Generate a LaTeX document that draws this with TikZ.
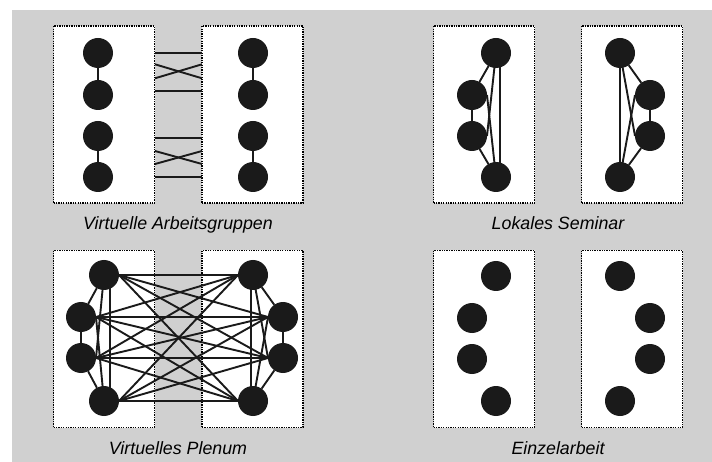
\documentclass[tikz,border=0pt]{standalone}
\usepackage{fontspec}
\setmainfont{Liberation Sans}
\definecolor{bgc}{HTML}{D0D0D0}
\definecolor{dotc}{HTML}{1A1A1A}
\pgfdeclarelayer{panels}
\pgfdeclarelayer{links}
\pgfsetlayers{panels,links,main}
\begin{document}
\begin{tikzpicture}[x=1pt,y=-1pt,
  dot/.style={circle,fill=dotc,draw=none,minimum size=30pt,inner sep=0pt,outer sep=0pt},
  panel/.style={draw=black,fill=white,line width=1.3pt,dash pattern=on 1.3pt off 1.1pt,minimum width=101pt,minimum height=177pt,inner sep=0pt,outer sep=0pt},
  link/.style={draw=dotc,line width=1.9pt},
  lbl/.style={font=\fontsize{17.8}{20}\selectfont\itshape,text=black,anchor=base,inner sep=0pt}]
\useasboundingbox (0,0) rectangle (712,462);
\begin{pgfonlayer}{panels}
\fill[white] (0,0) rectangle (712,462);
\fill[bgc] (12,10) rectangle (712,462);
\node[panel] (P1) at (104,114.5) {};
\node[panel] (P2) at (252.5,114.5) {};
\node[panel] (P3) at (484,114.5) {};
\node[panel] (P4) at (632,114.5) {};
\node[panel] (P5) at (104,339) {};
\node[panel] (P6) at (252.5,339) {};
\node[panel] (P7) at (484,339) {};
\node[panel] (P8) at (632,339) {};
\end{pgfonlayer}
% Virtuelle Arbeitsgruppen
\node[dot] (a1) at (98,53) {};
\node[dot] (a2) at (98,95) {};
\node[dot] (a3) at (98,136) {};
\node[dot] (a4) at (98,177) {};
\node[dot] (b1) at (253,53) {};
\node[dot] (b2) at (253,95) {};
\node[dot] (b3) at (253,136) {};
\node[dot] (b4) at (253,177) {};
% Lokales Seminar
\node[dot] (s1) at (496,53) {};
\node[dot] (s2) at (472,95) {};
\node[dot] (s3) at (472,136) {};
\node[dot] (s4) at (496,177) {};
\node[dot] (r1) at (620,53) {};
\node[dot] (r2) at (650,95) {};
\node[dot] (r3) at (650,136) {};
\node[dot] (r4) at (620,177) {};
% Virtuelles Plenum
\node[dot] (p1) at (104,275) {};
\node[dot] (p2) at (81,317) {};
\node[dot] (p3) at (81,358) {};
\node[dot] (p4) at (104,401) {};
\node[dot] (q1) at (253,275) {};
\node[dot] (q2) at (283,317) {};
\node[dot] (q3) at (283,358) {};
\node[dot] (q4) at (253,401) {};
% Einzelarbeit
\node[dot] (e1) at (496,276) {};
\node[dot] (e2) at (472,318) {};
\node[dot] (e3) at (472,359) {};
\node[dot] (e4) at (496,401) {};
\node[dot] (f1) at (620,276) {};
\node[dot] (f2) at (650,318) {};
\node[dot] (f3) at (650,359) {};
\node[dot] (f4) at (620,401) {};
\begin{pgfonlayer}{links}
% group links
\draw[link] (a1) -- (a2);
\draw[link] (a3) -- (a4);
\draw[link] (b1) -- (b2);
\draw[link] (b3) -- (b4);
\foreach \y/\z [count=\i] in {53/53, 64.3/78.3, 78.3/64.3, 91/91, 138.3/138.3, 151/164, 164/151, 176.7/176.7}{
  \coordinate (gl\i) at (155,\y);
  \coordinate (gr\i) at (202,\z);
  \draw[link] (gl\i) -- (gr\i);
}
% seminar
\draw[link] (s1) -- (s2) (s2) -- (s3) (s3) -- (s4);
\draw[link] ([xshift=4pt]s1.center) -- ([xshift=4pt]s4.center);
\draw[link] (s1.center) -- (s3.east);
\draw[link] (s2.east) -- (s4.center);
\draw[link] (r1) -- (r2) (r2) -- (r3) (r3) -- (r4);
\draw[link] (r1.center) -- (r4.center);
\draw[link] (r1.center) -- (r3.west);
\draw[link] (r2.west) -- (r4.center);
% plenum
\draw[link] (p1) -- (p2) (p2) -- (p3) (p3) -- (p4);
\draw[link] ([xshift=6pt]p1.center) -- ([xshift=6pt]p4.center);
\draw[link] (p1.center) -- (p3.east);
\draw[link] (p2.east) -- (p4.center);
\draw[link] (q1) -- (q2) (q2) -- (q3) (q3) -- (q4);
\draw[link] ([xshift=-2pt]q1.center) -- ([xshift=-2pt]q4.center);
\draw[link] (q1.center) -- (q3.west);
\draw[link] (q2.west) -- (q4.center);
\foreach \i in {1,...,4}{
  \foreach \j in {1,...,4}{
    \draw[link] (p\i.east) -- (q\j.west);
  }
}
\end{pgfonlayer}
% labels
\node[lbl] (L1) at (178,230) {Virtuelle Arbeitsgruppen};
\node[lbl] (L2) at (558,230) {Lokales Seminar};
\node[lbl] (L3) at (178,454) {Virtuelles Plenum};
\node[lbl] (L4) at (558,454) {Einzelarbeit};
\end{tikzpicture}
\end{document}
